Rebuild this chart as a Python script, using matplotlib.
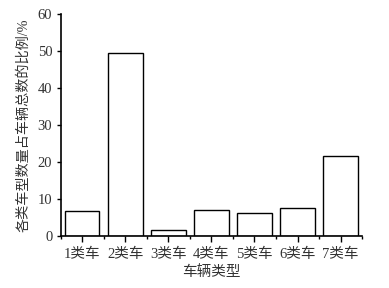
import numpy as np
import matplotlib
matplotlib.use('Agg')
import matplotlib.pyplot as plt
from matplotlib.ticker import MultipleLocator, FixedLocator

plt.rcParams['font.family'] = ['Liberation Serif', 'Noto Sans CJK SC']

categories = ['1类车', '2类车', '3类车', '4类车', '5类车', '6类车', '7类车']
shares = [6.8, 49.4, 1.6, 7.0, 6.2, 7.5, 21.6]   # 各类车型占比 %

txt = '#333333'
x = np.arange(1, len(categories) + 1)

fig = plt.figure(figsize=(3.89, 2.88), dpi=100)
ax = fig.add_axes([0.156, 0.181, 0.775, 0.770])

ax.bar(x, shares, width=0.8, facecolor='white', edgecolor='black', linewidth=1.0)

ax.set_xlim(0.5, 7.5)
ax.set_ylim(0, 60)
ax.set_xticks(x)
ax.set_xticklabels(categories)
ax.xaxis.set_minor_locator(FixedLocator(np.arange(0.5, 8.0, 1.0)))
ax.yaxis.set_major_locator(MultipleLocator(10))

for s in ['top', 'right']:
    ax.spines[s].set_visible(False)
for s in ['left', 'bottom']:
    ax.spines[s].set_linewidth(1.2)

ax.tick_params(axis='x', which='major', direction='out', length=4, width=1.0,
               pad=4.5, labelsize=10.5, labelcolor=txt)
ax.tick_params(axis='x', which='minor', direction='out', length=2, width=1.0)
ax.tick_params(axis='y', which='major', direction='out', length=3, width=1.0,
               pad=3, labelsize=10.5, labelcolor=txt)

ax.set_xlabel('车辆类型', fontsize=10.5, color=txt, labelpad=3)
ax.set_ylabel('各类车型数量占车辆总数的比例/%', fontsize=10.2, color=txt, labelpad=5)

plt.savefig('out.png', dpi=100)
